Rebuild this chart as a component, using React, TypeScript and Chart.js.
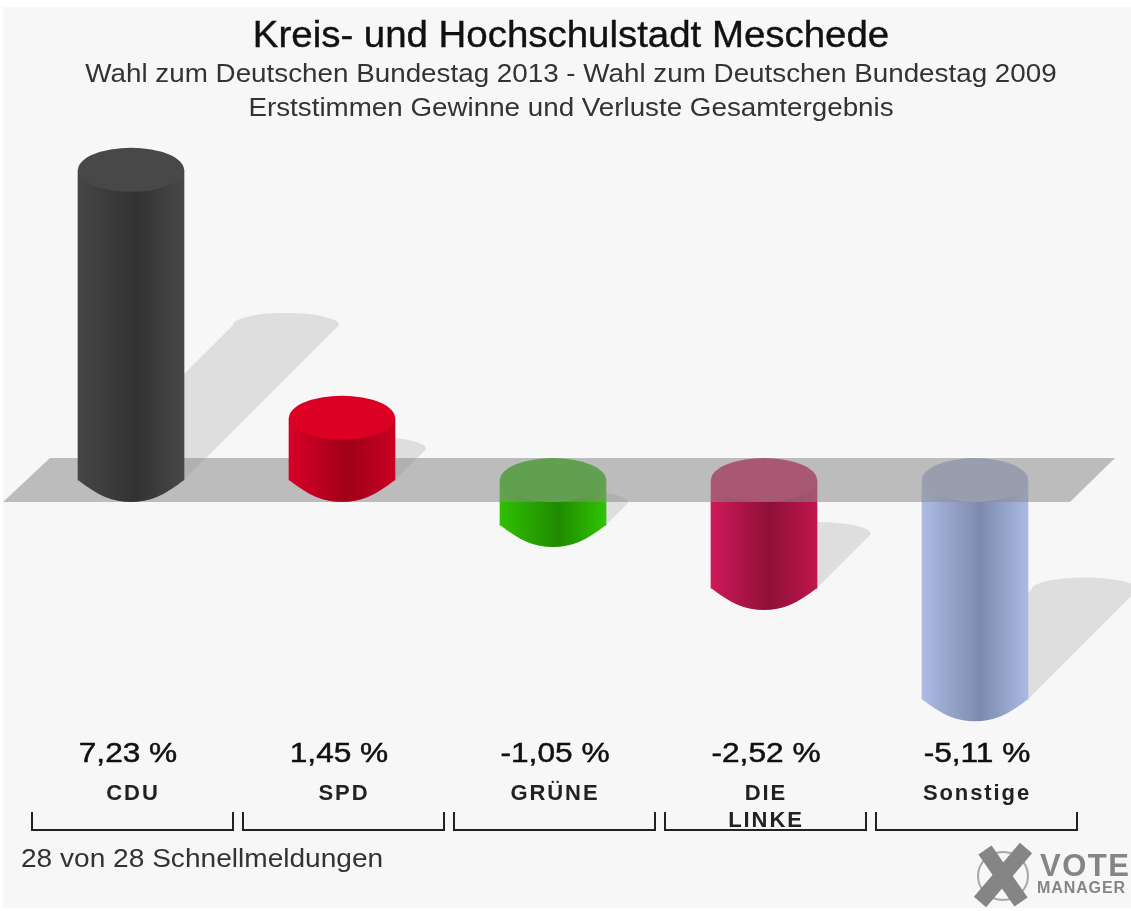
import React, { useEffect, useRef } from "react";
import { Chart, registerables } from "chart.js";

Chart.register(...registerables);

const categories: (string | string[])[] = ["CDU", "SPD", "GRÜNE", ["DIE", "LINKE"], "Sonstige"];
const gains: (number | null)[] = [7.23, 1.45, null, null, null];
const losses: (number | null)[] = [null, null, -1.05, -2.52, -5.11];
const edgeLeft = ["#464646", "#d80028", "#2fc000", "#d0185a", "#aebce4"];
const middle = ["#323232", "#a00018", "#1f8a00", "#8e1038", "#7c8aae"];
const edgeRight = ["#484848", "#c80024", "#2fc400", "#c0164e", "#aabae2"];
const capColors = ["#484848", "#dc0024", "#2fb80a", "#cc1a58", "#a8b4da"];
const title = "Kreis- und Hochschulstadt Meschede";
const subtitleLines = [
  "Wahl zum Deutschen Bundestag 2013 - Wahl zum Deutschen Bundestag 2009",
  "Erststimmen Gewinne und Verluste Gesamtergebnis",
];
const footer = "28 von 28 Schnellmeldungen";

const FONT = '"Liberation Sans", Arial, sans-serif';
const RY = 22;

function value(i: number): number {
  return (gains[i] ?? losses[i]) as number;
}

function gradient(ctx: CanvasRenderingContext2D, cx: number, w: number, i: number) {
  const g = ctx.createLinearGradient(cx - w / 2, 0, cx + w / 2, 0);
  g.addColorStop(0, edgeLeft[i]);
  g.addColorStop(0.55, middle[i]);
  g.addColorStop(1, edgeRight[i]);
  return g;
}

function text(
  ctx: CanvasRenderingContext2D,
  s: string,
  x: number,
  y: number,
  font: string,
  color: string,
  stretch: number,
  align: CanvasTextAlign = "center",
  stroke = 0,
  spacing = 0
) {
  ctx.save();
  ctx.translate(x, y);
  ctx.scale(stretch, 1);
  ctx.font = font;
  ctx.fillStyle = color;
  ctx.textAlign = align;
  ctx.textBaseline = "middle";
  (ctx as any).letterSpacing = spacing + "px";
  ctx.fillText(s, 0, 0);
  if (stroke > 0) {
    ctx.strokeStyle = color;
    ctx.lineWidth = stroke;
    ctx.strokeText(s, 0, 0);
  }
  ctx.restore();
}

const cylinderPlugin = {
  id: "cylinders",
  beforeDraw(chart: any) {
    const { ctx, width, height } = chart;
    ctx.save();
    ctx.fillStyle = "#ffffff";
    ctx.fillRect(0, 0, width, height);
    ctx.fillStyle = "#f7f7f7";
    ctx.fillRect(3, 7, width - 3, height - 10);
    ctx.restore();
    (ctx as any).letterSpacing = "1.9px";
  },
  beforeDatasetsDraw(chart: any) {
    const { ctx } = chart;
    (ctx as any).letterSpacing = "0px";
    const zero = chart.scales.y.getPixelForValue(0);
    ctx.save();
    ctx.fillStyle = "#dedede";
    [0, 1].forEach((d) => {
      const data = d === 0 ? gains : losses;
      chart.getDatasetMeta(d).data.forEach((el: any, i: number) => {
        if (data[i] === null) return;
        const positive = (data[i] as number) > 0;
        const h = Math.abs(el.y - zero);
        const base = positive ? zero : el.y;
        const o = h / 2;
        const hw = el.width / 2;
        ctx.beginPath();
        ctx.moveTo(el.x - hw, base);
        ctx.lineTo(el.x + hw, base);
        ctx.lineTo(el.x + hw + o, base - o);
        ctx.ellipse(el.x + o, base - o, hw, 12, 0, 0, Math.PI, true);
        ctx.closePath();
        ctx.fill();
      });
    });
    ctx.restore();
  },
  beforeDatasetDraw(chart: any, args: any) {
    const { ctx } = chart;
    const data = args.index === 0 ? gains : losses;
    const zero = chart.scales.y.getPixelForValue(0);
    chart.getDatasetMeta(args.index).data.forEach((el: any, i: number) => {
      if (data[i] === null) return;
      const bottom = args.index === 0 ? zero : el.y;
      const hw = el.width / 2;
      ctx.save();
      ctx.fillStyle = gradient(ctx, el.x, el.width, i);
      ctx.beginPath();
      ctx.moveTo(el.x - hw, bottom - 1);
      ctx.lineTo(el.x - hw, bottom);
      ctx.bezierCurveTo(el.x - hw * 0.62, bottom + RY * 0.72, el.x - hw * 0.35, bottom + RY, el.x, bottom + RY);
      ctx.bezierCurveTo(el.x + hw * 0.35, bottom + RY, el.x + hw * 0.62, bottom + RY * 0.72, el.x + hw, bottom);
      ctx.lineTo(el.x + hw, bottom - 1);
      ctx.closePath();
      ctx.fill();
      ctx.restore();
    });
  },
  afterDatasetDraw(chart: any, args: any) {
    const { ctx } = chart;
    const data = args.index === 0 ? gains : losses;
    const zero = chart.scales.y.getPixelForValue(0);
    chart.getDatasetMeta(args.index).data.forEach((el: any, i: number) => {
      if (data[i] === null) return;
      const top = args.index === 0 ? el.y : zero;
      ctx.save();
      ctx.fillStyle = capColors[i];
      ctx.beginPath();
      ctx.ellipse(el.x, top, el.width / 2, RY, 0, 0, Math.PI * 2);
      ctx.fill();
      ctx.restore();
    });
    if (args.index === 1) {
      ctx.save();
      ctx.fillStyle = "rgba(140,140,140,0.55)";
      ctx.beginPath();
      ctx.moveTo(50, zero - RY);
      ctx.lineTo(1115, zero - RY);
      ctx.lineTo(1070, zero + RY);
      ctx.lineTo(3, zero + RY);
      ctx.closePath();
      ctx.fill();
      ctx.restore();
    }
  },
  afterDraw(chart: any) {
    const { ctx, scales } = chart;
    text(ctx, title, 571, 37, `36px ${FONT}`, "#111111", 1.067, "center", 0.4);
    text(ctx, subtitleLines[0], 571, 75, `26px ${FONT}`, "#333333", 1.069);
    text(ctx, subtitleLines[1], 571, 109, `26px ${FONT}`, "#333333", 1.068);
    text(ctx, footer, 21, 860, `26px ${FONT}`, "#333333", 1.08, "left");
    categories.forEach((_, i) => {
      const cx = scales.x.getPixelForTick(i);
      const v = value(i);
      const s = `${v.toFixed(2).replace(".", ",")} %`;
      text(ctx, s, cx + (v > 0 ? -3 : 2), 754, `28.5px ${FONT}`, "#111111", 1.11, "center", 0.5);
      ctx.save();
      ctx.strokeStyle = "#222222";
      ctx.lineWidth = 2;
      ctx.beginPath();
      ctx.moveTo(cx - 99, 812);
      ctx.lineTo(cx - 99, 830);
      ctx.lineTo(cx + 102, 830);
      ctx.lineTo(cx + 102, 812);
      ctx.stroke();
      ctx.restore();
    });
    // logo
    ctx.save();
    ctx.strokeStyle = "#a8a8a8";
    ctx.lineWidth = 2;
    ctx.beginPath();
    ctx.ellipse(1003, 876, 25, 24, 0, 0, Math.PI * 2);
    ctx.stroke();
    ctx.strokeStyle = "#858585";
    ctx.lineWidth = 16;
    ctx.beginPath();
    ctx.moveTo(985, 850);
    ctx.lineTo(1021, 902);
    ctx.moveTo(1026, 848);
    ctx.lineTo(980, 902);
    ctx.stroke();
    ctx.restore();
    text(ctx, "VOTE", 1040, 867, `bold 31px ${FONT}`, "#858585", 1, "left", 0, 1.5);
    text(ctx, "MANAGER", 1037, 889, `bold 16px ${FONT}`, "#858585", 1, "left", 0, 0.9);
  },
};

export default function App() {
  const ref = useRef<HTMLCanvasElement>(null);
  useEffect(() => {
    const bg = (d: number) => (c: any) => {
      const chart = c.chart;
      const data = d === 0 ? gains : losses;
      if (!chart.chartArea || data[c.dataIndex] === null) return middle[c.dataIndex];
      return gradient(chart.ctx, chart.scales.x.getPixelForTick(c.dataIndex), 106, c.dataIndex);
    };
    const chart = new Chart(ref.current as HTMLCanvasElement, {
      type: "bar",
      data: {
        labels: categories as any,
        datasets: [
          { label: "Gewinne", data: gains, backgroundColor: bg(0), barThickness: 106, grouped: false } as any,
          { label: "Verluste", data: losses, backgroundColor: bg(1), barThickness: 106, grouped: false } as any,
        ],
      },
      options: {
        animation: false,
        responsive: false,
        devicePixelRatio: 1,
        layout: { padding: { left: 25.5, right: 50.5, top: 51, bottom: 0 } },
        plugins: { legend: { display: false }, tooltip: { enabled: false }, title: { display: false } },
        scales: {
          y: { type: "linear", min: -7, max: 10, display: false },
          x: {
            type: "category",
            afterFit: (s: any) => {
              s.height = 130.7;
            },
            grid: { display: false, drawTicks: false },
            border: { display: false },
            ticks: {
              autoSkip: false,
              maxRotation: 0,
              minRotation: 0,
              padding: 0,
              labelOffset: 2,
              color: "#222222",
              font: { family: FONT, size: 22, weight: "bold", lineHeight: 1.24 },
            },
          },
        },
      } as any,
      plugins: [cylinderPlugin],
    });
    return () => chart.destroy();
  }, []);
  return (
    <canvas
      ref={ref}
      width={1131}
      height={911}
      style={{ position: "absolute", left: 0, top: 0, width: 1131, height: 911, filter: "blur(0.7px)" }}
    />
  );
}
